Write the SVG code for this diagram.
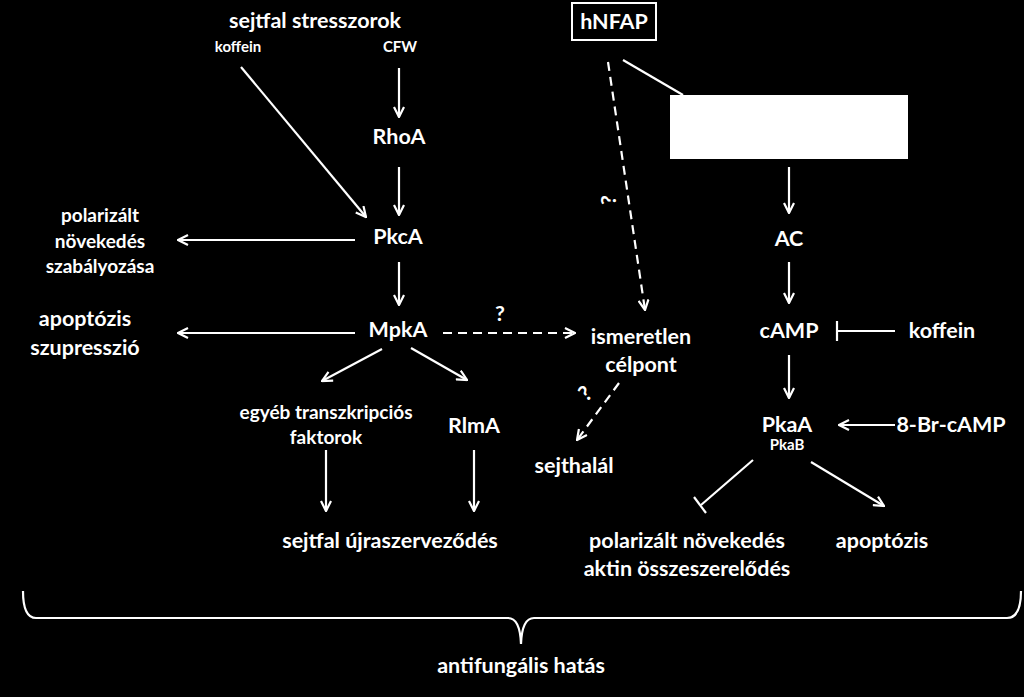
<svg xmlns="http://www.w3.org/2000/svg" width="1024" height="697" viewBox="0 0 1024 697">
<defs>
<style>
text{font-family:Lato,"Open Sans","Liberation Sans",sans-serif;font-weight:bold;fill:#fff;text-anchor:middle}
.l{font-size:21.5px}.m{font-size:19px}.s{font-size:15px}
.c{stroke:#fff;stroke-width:2.2;fill:none}
.d{stroke:#fff;stroke-width:2.2;fill:none;stroke-dasharray:9 6}
</style>
<marker id="a" viewBox="0 0 12 12" refX="11" refY="6" markerWidth="12" markerHeight="12" markerUnits="userSpaceOnUse" orient="auto">
<path d="M1,1 L11,6 L1,11" stroke="#fff" stroke-width="2.2" fill="none"/>
</marker>
</defs>
<rect width="1024" height="697" fill="#000"/>
<g id="sejtfal-stresszorok"><text class="l" x="315" y="28">sejtfal stresszorok</text></g>
<g id="koffein1"><text class="s" x="238" y="52">koffein</text></g>
<g id="CFW"><text class="s" x="400" y="52">CFW</text></g>
<g id="RhoA"><text class="l" x="399" y="144">RhoA</text></g>
<g id="PkcA"><text class="l" x="398" y="244">PkcA</text></g>
<g id="polarizalt1"><text class="m" x="100" y="222">polarizált</text><text class="m" x="100" y="248">növekedés</text><text class="m" x="100" y="273">szabályozása</text></g>
<g id="MpkA"><text class="l" x="398" y="337">MpkA</text></g>
<g id="apoptozis1"><text class="l" x="85" y="326">apoptózis</text><text class="l" x="85" y="355">szupresszió</text></g>
<g id="ismeretlen"><text class="l" x="641" y="344">ismeretlen</text><text class="l" x="641" y="372">célpont</text></g>
<g id="sejthalal"><text class="l" x="574" y="473">sejthalál</text></g>
<g id="egyeb"><text class="m" x="326" y="419">egyéb transzkripciós</text><text class="m" x="326" y="444">faktorok</text></g>
<g id="RlmA"><text class="l" x="474" y="433">RlmA</text></g>
<g id="ujraszervezodes"><text class="l" x="390" y="548">sejtfal újraszerveződés</text></g>
<g id="hNFAP"><rect x="572" y="3" width="84" height="37" fill="none" stroke="#fff" stroke-width="2"/><text class="l" x="614" y="29">hNFAP</text></g>
<g id="whitebox"><rect x="670" y="95" width="238" height="64" fill="#fff"/></g>
<g id="AC"><text class="l" x="789" y="246">AC</text></g>
<g id="cAMP"><text class="l" x="789" y="338">cAMP</text></g>
<g id="koffein2"><text class="l" x="942" y="338">koffein</text></g>
<g id="PkaA"><text class="l" x="787" y="432">PkaA</text><text class="s" x="787" y="450">PkaB</text></g>
<g id="BrcAMP"><text class="l" x="951" y="432">8-Br-cAMP</text></g>
<g id="polarizalt2"><text class="l" x="687" y="548">polarizált növekedés</text><text class="l" x="687" y="576">aktin összeszerelődés</text></g>
<g id="apoptozis2"><text class="l" x="882" y="548">apoptózis</text></g>
<g id="antifungalis"><path class="c" d="M23,591 Q23,618 36,618 L508,618 Q520,618 521,644 Q522,618 534,618 L1007,618 Q1021,618 1021,591"/><text class="l" x="521" y="673">antifungális hatás</text></g>
<g id="connectors">
<line class="c" x1="399" y1="68" x2="399" y2="117" marker-end="url(#a)"/>
<line class="c" x1="399" y1="167" x2="399" y2="215" marker-end="url(#a)"/>
<line class="c" x1="241" y1="67" x2="366" y2="217" marker-end="url(#a)"/>
<line class="c" x1="355" y1="240" x2="178" y2="240" marker-end="url(#a)"/>
<line class="c" x1="399" y1="262" x2="399" y2="305" marker-end="url(#a)"/>
<line class="c" x1="355" y1="333" x2="178" y2="333" marker-end="url(#a)"/>
<line class="d" x1="443" y1="333" x2="575" y2="333" marker-end="url(#a)"/>
<text class="l" x="500" y="321">?</text>
<line class="d" x1="608" y1="62" x2="645" y2="310" marker-end="url(#a)"/>
<text class="l" transform="translate(616,200) rotate(-90)">?</text>
<line class="d" x1="619" y1="383" x2="577" y2="440" marker-end="url(#a)"/>
<text class="l" transform="translate(590,399) rotate(-40)">?</text>
<line class="c" x1="382" y1="349" x2="322" y2="381" marker-end="url(#a)"/>
<line class="c" x1="411" y1="348" x2="467" y2="380" marker-end="url(#a)"/>
<line class="c" x1="326" y1="450" x2="326" y2="511" marker-end="url(#a)"/>
<line class="c" x1="474" y1="450" x2="474" y2="511" marker-end="url(#a)"/>
<line class="c" x1="623" y1="60" x2="683" y2="95"/>
<line class="c" x1="789" y1="167" x2="789" y2="213" marker-end="url(#a)"/>
<line class="c" x1="789" y1="262" x2="789" y2="303" marker-end="url(#a)"/>
<line class="c" x1="895" y1="331" x2="837" y2="331"/>
<line class="c" x1="837" y1="321" x2="837" y2="341"/>
<line class="c" x1="789" y1="355" x2="789" y2="398" marker-end="url(#a)"/>
<line class="c" x1="895" y1="425" x2="839" y2="425" marker-end="url(#a)"/>
<line class="c" x1="753" y1="460" x2="701" y2="505"/>
<line class="c" x1="694" y1="497" x2="706" y2="513"/>
<line class="c" x1="811" y1="462" x2="884" y2="506" marker-end="url(#a)"/>
</g>
</svg>
